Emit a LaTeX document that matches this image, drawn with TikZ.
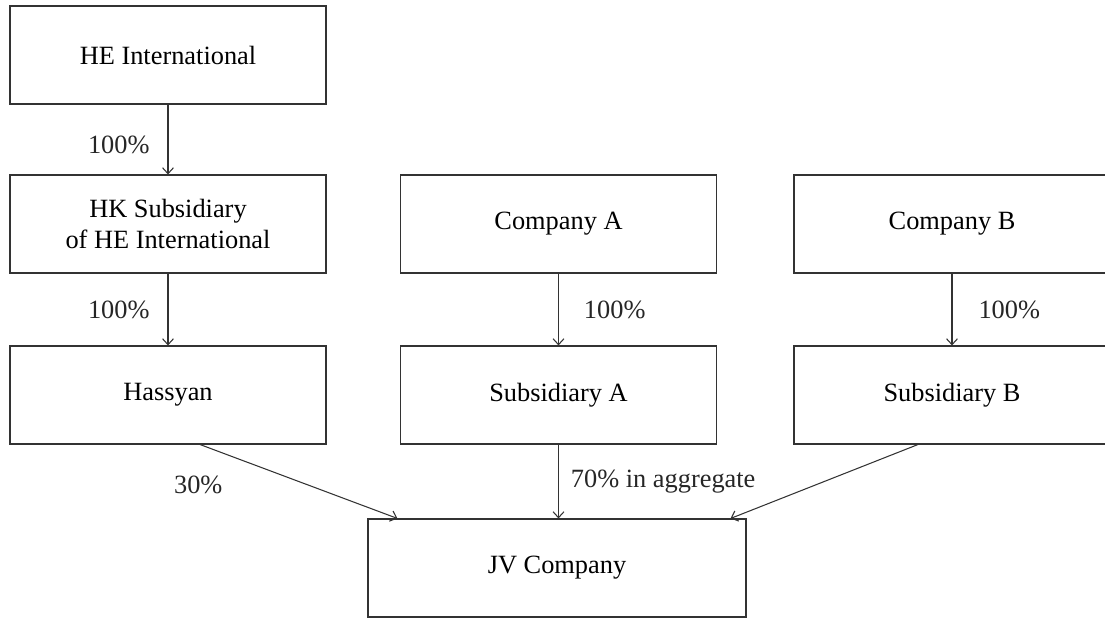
\documentclass[tikz,border=0pt]{standalone}
\usepackage{fontspec}
\setmainfont{Liberation Serif}
\usepackage{tikz}
\usetikzlibrary{positioning, arrows.meta}

\begin{document}
\begin{tikzpicture}[font=\fontsize{15}{18}\selectfont, draw=black!80, line width=0.6pt,
        >={Straight Barb[length=3.4pt, width=6.2pt]},
        entity/.style={draw, fill=white, minimum width=6.32cm, minimum height=1.96cm, align=center},
        share/.style={inner sep=0pt, text=black!85}]
            \clip (0, 0) rectangle (22.10, -12.36);

            \node[entity] (he) at (3.36, -1.10) {HE International};
            \node[entity] (hk) at (3.36, -4.48) {HK Subsidiary\\ of HE International};
            \node[entity] (coa) at (11.17, -4.48) {Company A};
            \node[entity] (cob) at (19.04, -4.48) {Company B};

            \node[entity] (has) at (3.36, -7.90) {Hassyan};
            \node[entity] (suba) at (11.17, -7.90) {Subsidiary A};
            \node[entity] (subb) at (19.04, -7.90) {Subsidiary B};

            \node[entity, minimum width=7.56cm] (jv) at (11.14, -11.36) {JV Company};

            \draw[->] (he) -- node[share, left=10.2pt, yshift=-3pt] {100\%} (hk);
            \draw[->] (hk) -- node[share, left=10.2pt] {100\%} (has);
            \draw[->] (coa) -- node[share, right=14.2pt] {100\%} (suba);
            \draw[->] (cob) -- node[share, right=14.8pt] {100\%} (subb);

            \draw[->] ([xshift=0.64cm]has.south) -- node[share, pos=0, below=17.6pt, xshift=-1pt] {30\%} ([xshift=0.60cm]jv.north west);
            \draw[->] (suba.south) -- node[share, right=6.8pt] {70\% in aggregate} (suba.south |- jv.north);
            \draw[->] ([xshift=-0.68cm]subb.south) -- ([xshift=-0.32cm]jv.north east);
        \end{tikzpicture}
\end{document}
